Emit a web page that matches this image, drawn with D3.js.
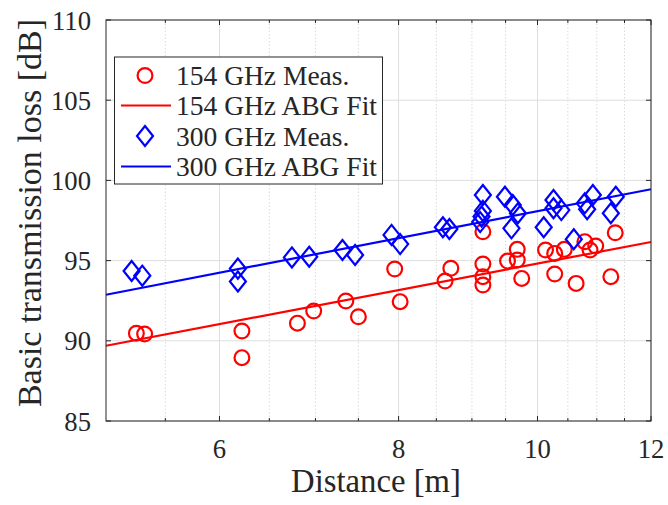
<!DOCTYPE html>
<html>
<head>
<meta charset="utf-8">
<script src="https://cdn.jsdelivr.net/npm/d3@7/dist/d3.min.js"></script>
<style>
  html, body { margin: 0; padding: 0; background: #fff; }
  svg { display: block; }
  svg text { font-family: "Liberation Serif", "Tinos", "Times New Roman", "DejaVu Serif", serif; fill: #262626; }
</style>
</head>
<body>
<svg id="chart" width="668" height="505"></svg>
<script>
// ---- data ----
const dist154 = [5.25, 5.32, 6.22, 6.22, 6.80, 6.98, 7.35, 7.50, 7.95, 8.02, 8.62, 8.70,
  9.16, 9.16, 9.16, 9.16, 9.53, 9.68, 9.68, 9.75, 10.13, 10.28, 10.28, 10.44, 10.64,
  10.79, 10.88, 10.98, 11.25, 11.33];
const loss154 = [90.47, 90.42, 90.61, 88.95, 91.10, 91.86, 92.48, 91.50, 94.48, 92.44, 93.73, 94.52,
  96.80, 94.79, 94.00, 93.48, 94.97, 95.70, 95.04, 93.89, 95.66, 94.16, 95.45, 95.70, 93.58,
  96.18, 95.66, 95.91, 94.00, 96.74];
const dist300 = [5.21, 5.30, 6.18, 6.18, 6.74, 6.93, 7.31, 7.46, 7.91, 8.02, 8.59, 8.68,
  9.16, 9.16, 9.14, 9.12, 9.49, 9.61, 9.69, 9.59, 10.10, 10.26, 10.26, 10.39, 10.60,
  10.79, 10.83, 10.93, 11.25, 11.34];
const loss300 = [94.35, 94.06, 94.50, 93.70, 95.20, 95.24, 95.66, 95.35, 96.60, 96.03, 97.08, 96.97,
  99.09, 98.10, 97.75, 97.40, 98.98, 98.47, 97.95, 97.01, 97.08, 98.78, 98.26, 98.15, 96.33,
  98.57, 98.20, 99.09, 97.95, 98.98];
const fitDist = [5, 12];
const fit154 = [89.69, 96.16];
const fit300 = [92.87, 99.45];
const xTicks = [6, 8, 10, 12];
const xMinor = [5.5, 6.5, 7, 7.5, 8.5, 9, 9.5, 10.5, 11, 11.5];
const yTicks = [85, 90, 95, 100, 105, 110];
const legendLabels = ["154 GHz Meas.", "154 GHz ABG Fit", "300 GHz Meas.", "300 GHz ABG Fit"];

// ---- layout ----
const L = 106, R = 651, T = 20, B = 421;
const FONT = "'Liberation Serif', Tinos, 'Times New Roman', 'DejaVu Serif', serif";
const svg = d3.select("#chart");
const x = d3.scaleLog().domain([5, 12]).range([L, R]);
const y = d3.scaleLinear().domain([85, 110]).range([B, T]);
const RED = "#ff0000", BLUE = "#0000ff", AX = "#262626";

// size a text so its natural width matches a target, within bounds
function fitSize(str, target, lo, hi) {
  const t = svg.append("text").attr("font-family", FONT).attr("font-size", 100).text(str);
  const w = t.node().getComputedTextLength();
  t.remove();
  return Math.max(lo, Math.min(hi, 100 * target / w));
}

// grid
const g = svg.append("g");
g.selectAll(".xminor").data(xMinor).join("line")
  .attr("x1", d => x(d)).attr("x2", d => x(d)).attr("y1", T).attr("y2", B)
  .attr("stroke", "#d2d2d2").attr("stroke-width", 0.8).attr("stroke-dasharray", "1.5,2");
g.selectAll(".xmaj").data(xTicks).join("line")
  .attr("x1", d => x(d)).attr("x2", d => x(d)).attr("y1", T).attr("y2", B)
  .attr("stroke", "#dedede").attr("stroke-width", 1);
g.selectAll(".ymaj").data(yTicks).join("line")
  .attr("x1", L).attr("x2", R).attr("y1", d => y(d)).attr("y2", d => y(d))
  .attr("stroke", "#dedede").attr("stroke-width", 1);

// data
const plot = svg.append("g");
const line = d3.line().x(d => x(d[0])).y(d => y(d[1]));
plot.selectAll(".c154").data(dist154.map((d, i) => [d, loss154[i]])).join("circle")
  .attr("cx", d => x(d[0])).attr("cy", d => y(d[1])).attr("r", 7.4)
  .attr("fill", "none").attr("stroke", RED).attr("stroke-width", 2.2);
plot.append("path").datum(fitDist.map((d, i) => [d, fit154[i]]))
  .attr("d", line).attr("fill", "none").attr("stroke", RED).attr("stroke-width", 2.2);
const diamond = (cx, cy) => `M${cx},${cy - 10}L${cx + 8},${cy}L${cx},${cy + 10}L${cx - 8},${cy}Z`;
plot.selectAll(".d300").data(dist300.map((d, i) => [d, loss300[i]])).join("path")
  .attr("d", d => diamond(x(d[0]), y(d[1])))
  .attr("fill", "none").attr("stroke", BLUE).attr("stroke-width", 2.2);
plot.append("path").datum(fitDist.map((d, i) => [d, fit300[i]]))
  .attr("d", line).attr("fill", "none").attr("stroke", BLUE).attr("stroke-width", 2.2);

// axes box & ticks
const ax = svg.append("g");
ax.append("rect").attr("x", L).attr("y", T).attr("width", R - L).attr("height", B - T)
  .attr("fill", "none").attr("stroke", AX).attr("stroke-width", 1);
xTicks.forEach(t => {
  ax.append("line").attr("x1", x(t)).attr("x2", x(t)).attr("y1", B).attr("y2", B - 5).attr("stroke", AX);
  ax.append("line").attr("x1", x(t)).attr("x2", x(t)).attr("y1", T).attr("y2", T + 5).attr("stroke", AX);
});
xMinor.forEach(t => {
  ax.append("line").attr("x1", x(t)).attr("x2", x(t)).attr("y1", B).attr("y2", B - 3).attr("stroke", AX);
  ax.append("line").attr("x1", x(t)).attr("x2", x(t)).attr("y1", T).attr("y2", T + 3).attr("stroke", AX);
});
yTicks.forEach(t => {
  ax.append("line").attr("x1", L).attr("x2", L + 5).attr("y1", y(t)).attr("y2", y(t)).attr("stroke", AX);
  ax.append("line").attr("x1", R).attr("x2", R - 5).attr("y1", y(t)).attr("y2", y(t)).attr("stroke", AX);
});
const tickSize = fitSize("110", 39, 20, 30);
ax.selectAll(".xt").data(xTicks).join("text")
  .attr("x", d => x(d)).attr("y", 458).attr("text-anchor", "middle")
  .attr("font-family", FONT).attr("font-size", tickSize).text(d => d);
ax.selectAll(".yt").data(yTicks).join("text")
  .attr("x", 91).attr("y", d => y(d) + tickSize * 0.36).attr("text-anchor", "end")
  .attr("font-family", FONT).attr("font-size", tickSize).text(d => d);
const xlSize = fitSize("Distance [m]", 170, 20, 34);
ax.append("text").attr("x", 376).attr("y", 492).attr("text-anchor", "middle")
  .attr("font-family", FONT).attr("font-size", xlSize).text("Distance [m]");
const ylSize = fitSize("Basic transmission loss [dB]", 400, 20, 34);
ax.append("text").attr("transform", "translate(41,213) rotate(-90)")
  .attr("text-anchor", "middle").attr("font-family", FONT).attr("font-size", ylSize)
  .text("Basic transmission loss [dB]");

// legend
const lg = svg.append("g");
lg.append("rect").attr("x", 114.5).attr("y", 57).attr("width", 268).attr("height", 127)
  .attr("fill", "#fff").attr("stroke", AX).attr("stroke-width", 1);
const rowY = [75.5, 105.5, 136, 166.5];
const lgSize = fitSize("154 GHz ABG Fit", 201, 20, 28);
legendLabels.forEach((lab, i) => {
  const cy = rowY[i];
  const col = i < 2 ? RED : BLUE;
  if (i === 0) lg.append("circle").attr("cx", 145).attr("cy", cy).attr("r", 7.4)
    .attr("fill", "none").attr("stroke", col).attr("stroke-width", 2.2);
  if (i === 2) lg.append("path").attr("d", diamond(145, cy))
    .attr("fill", "none").attr("stroke", col).attr("stroke-width", 2.2);
  if (i === 1 || i === 3) lg.append("line").attr("x1", 121).attr("x2", 171)
    .attr("y1", cy).attr("y2", cy).attr("stroke", col).attr("stroke-width", 2.2);
  lg.append("text").attr("x", 176).attr("y", cy + lgSize * 0.36).attr("font-family", FONT)
    .attr("font-size", lgSize).text(lab);
});
</script>
</body>
</html>
